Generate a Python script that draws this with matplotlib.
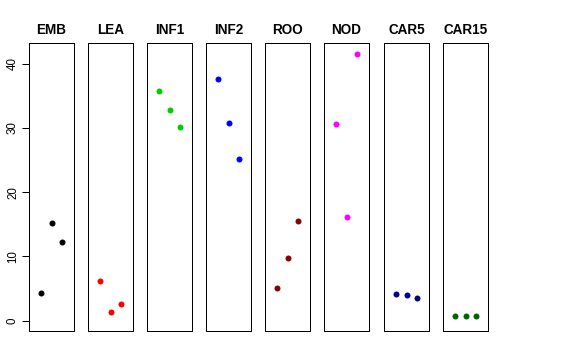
import matplotlib
matplotlib.use("Agg")
import matplotlib.pyplot as plt

plt.rcParams['font.family'] = ['Liberation Sans', 'DejaVu Sans']

tissues = ["EMB", "LEA", "INF1", "INF2", "ROO", "NOD", "CAR5", "CAR15"]
colors = ["black", "#FF0000", "#00CD00", "#0000FF", "#8B0000", "#FF00FF", "#00008B", "#006400"]
emb = [4.35, 15.2, 12.2]
lea = [6.2, 1.3, 2.55]
inf1 = [35.7, 32.8, 30.2]
inf2 = [37.6, 30.8, 25.1]
roo = [5.1, 9.75, 15.5]
nod = [30.6, 16.2, 41.5]
car5 = [4.15, 3.95, 3.6]
car15 = [0.68, 0.78, 0.68]
values = [emb, lea, inf1, inf2, roo, nod, car5, car15]
reps = [1, 2, 3]
yticks = [0, 10, 20, 30, 40]

W, H = 576, 360
fig = plt.figure(figsize=(W / 72, H / 72), dpi=72)
lefts = [29, 88, 147, 206, 265, 324, 384, 443]
pw = 45
top, bottom = 43, 331
for i, (name, col, vals) in enumerate(zip(tissues, colors, values)):
    ax = fig.add_axes([lefts[i] / W, 1 - bottom / H, pw / W, (bottom - top) / H])
    ax.plot(reps, vals, 'o', color=col, markersize=6, markeredgewidth=0)
    ax.set_xlim(-0.16, 4.16)
    ax.set_ylim(-1.6, 43.2)
    ax.set_xticks([])
    for s in ax.spines.values():
        s.set_linewidth(1.0)
        s.set_color('black')
    ax.set_title(name, fontsize=13.5, fontweight='bold', pad=9)
    if i == 0:
        ax.set_yticks(yticks)
        ax.tick_params(axis='y', length=7, width=1, pad=3, labelsize=11.5, labelrotation=90)
        for lab in ax.get_yticklabels():
            lab.set_va('center')
    else:
        ax.set_yticks([])

fig.savefig("out.png", dpi=72)
